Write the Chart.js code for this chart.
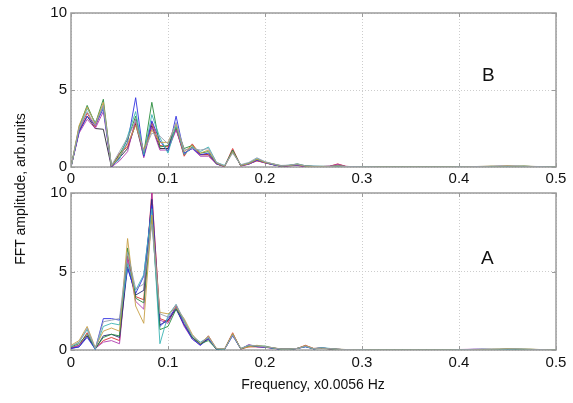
<!DOCTYPE html>
<html lang="en">
<head>
    <meta charset="UTF-8">
    <script src="https://cdn.jsdelivr.net/npm/chart.js"></script>
    <title>FFT amplitude</title>
    <style>
        body { margin: 0; background: #fff; }
        .figura { position: relative; width: 573px; height: 403px; font-family: "Liberation Sans", Arial, sans-serif; color: #111; }
        .figura canvas { position: absolute; left: 0; }
        #graficoB { top: 0; }
        #graficoA { top: 180px; }
        .letra { position: absolute; font-size: 19px; }
        .tituloX { position: absolute; left: 163px; width: 300px; top: 376px; text-align: center; font-size: 14px; }
        .tituloY { position: absolute; left: -80px; top: 181px; width: 200px; text-align: center; font-size: 14px; transform: rotate(-90deg); }
    </style>
</head>
<body>
    <div class="figura">
        <canvas id="graficoB" width="573" height="185"></canvas>
        <canvas id="graficoA" width="573" height="223"></canvas>
        <div class="letra" style="left:482px; top:64px;">B</div>
        <div class="letra" style="left:481px; top:247px;">A</div>
        <div class="tituloX">Frequency, x0.0056 Hz</div>
        <div class="tituloY">FFT amplitude, arb.units</div>
    </div>
<script>
    // frequencias dos bins da FFT (passo 1/120), de 0 a 0.5
    const freq = Array.from({ length: 61 }, (_, k) => k / 120);

    const xTicks = [0, 0.1, 0.2, 0.3, 0.4, 0.5];
    const yTicks = [0, 5, 10];

    // painel B (superior)
    const blueB = [0, 2.3, 3.3, 2.7, 3.8, 0.0, 0.6, 1.6, 4.5, 0.7,
        3.0, 1.7, 1.0, 3.3, 0.9, 1.2, 0.8, 0.9, 0.2, 0.05,
        1.0, 0.1, 0.2, 0.45, 0.3, 0.15, 0.05, 0.1, 0.12, 0.05,
        0.04, 0.03, 0.04, 0.05, 0.03, 0.02, 0.02, 0.01, 0.01, 0.01,
        0.01, 0.01, 0.01, 0.01, 0.01, 0.01, 0.01, 0.01, 0.01, 0.01,
        0.01, 0.02, 0.03, 0.05, 0.03, 0.04, 0.03, 0.02, 0.02, 0.01,
        0.01];
    const greenB = [0, 2.6, 4.0, 2.8, 4.4, 0.05, 0.8, 1.8, 3.3, 0.9,
        4.2, 1.3, 1.4, 2.6, 1.2, 1.4, 0.9, 1.0, 0.25, 0.05,
        1.1, 0.1, 0.25, 0.5, 0.3, 0.2, 0.08, 0.1, 0.2, 0.08,
        0.04, 0.04, 0.03, 0.06, 0.03, 0.02, 0.01, 0.01, 0.01, 0.01,
        0.01, 0.01, 0.01, 0.01, 0.01, 0.01, 0.01, 0.01, 0.01, 0.01,
        0.02, 0.02, 0.04, 0.03, 0.05, 0.03, 0.06, 0.03, 0.02, 0.01,
        0.01];
    const redB = [0, 2.4, 3.5, 2.6, 4.0, 0.0, 0.9, 1.3, 2.9, 1.0,
        2.9, 1.4, 1.3, 2.5, 0.7, 1.5, 0.8, 0.8, 0.2, 0.05,
        1.2, 0.08, 0.2, 0.4, 0.28, 0.15, 0.06, 0.1, 0.1, 0.05,
        0.03, 0.03, 0.05, 0.2, 0.04, 0.02, 0.01, 0.01, 0.01, 0.01,
        0.01, 0.01, 0.01, 0.01, 0.01, 0.01, 0.01, 0.01, 0.01, 0.01,
        0.01, 0.02, 0.03, 0.04, 0.06, 0.04, 0.03, 0.02, 0.01, 0.01,
        0.01];
    const cyanB = [0, 2.5, 3.8, 2.9, 3.9, 0.1, 0.5, 2.0, 3.6, 0.8,
        3.4, 1.9, 0.9, 2.7, 0.8, 1.3, 1.0, 1.3, 0.3, 0.1,
        1.0, 0.12, 0.25, 0.55, 0.32, 0.18, 0.07, 0.12, 0.18, 0.06,
        0.05, 0.04, 0.03, 0.05, 0.03, 0.02, 0.02, 0.01, 0.01, 0.01,
        0.01, 0.01, 0.01, 0.01, 0.01, 0.01, 0.01, 0.01, 0.01, 0.02,
        0.02, 0.03, 0.03, 0.04, 0.04, 0.05, 0.04, 0.03, 0.02, 0.01,
        0.01];
    const magentaB = [0, 2.2, 3.1, 2.5, 3.6, 0.0, 0.4, 1.0, 3.1, 0.6,
        2.6, 1.1, 1.1, 2.4, 0.9, 1.2, 0.7, 0.7, 0.2, 0.02,
        1.1, 0.06, 0.18, 0.42, 0.26, 0.16, 0.05, 0.08, 0.1, 0.04,
        0.03, 0.03, 0.04, 0.18, 0.04, 0.02, 0.01, 0.01, 0.01, 0.01,
        0.01, 0.01, 0.01, 0.01, 0.01, 0.01, 0.01, 0.01, 0.01, 0.01,
        0.01, 0.01, 0.02, 0.03, 0.03, 0.04, 0.03, 0.02, 0.01, 0.01,
        0.01];
    const oliveB = [0, 2.7, 3.9, 2.8, 4.2, 0.05, 0.7, 1.5, 2.7, 1.1,
        2.4, 1.6, 1.6, 2.8, 1.0, 1.4, 0.9, 1.1, 0.25, 0.04,
        1.0, 0.1, 0.22, 0.5, 0.3, 0.2, 0.06, 0.1, 0.15, 0.05,
        0.03, 0.03, 0.03, 0.08, 0.03, 0.02, 0.01, 0.01, 0.01, 0.01,
        0.01, 0.01, 0.01, 0.01, 0.01, 0.01, 0.01, 0.01, 0.01, 0.02,
        0.03, 0.04, 0.06, 0.05, 0.07, 0.05, 0.06, 0.04, 0.02, 0.01,
        0.01];
    const blackB = [0, 2.3, 3.3, 2.5, 2.45, 0.0, 0.6, 1.2, 2.8, 0.7,
        2.7, 1.2, 1.2, 2.5, 0.8, 1.3, 0.8, 0.8, 0.2, 0.03,
        1.1, 0.08, 0.2, 0.42, 0.28, 0.15, 0.05, 0.08, 0.12, 0.05,
        0.03, 0.03, 0.04, 0.12, 0.03, 0.02, 0.01, 0.01, 0.01, 0.01,
        0.01, 0.01, 0.01, 0.01, 0.01, 0.01, 0.01, 0.01, 0.01, 0.01,
        0.01, 0.01, 0.02, 0.02, 0.03, 0.03, 0.02, 0.02, 0.01, 0.01,
        0.01];
    const greyB = [0, 2.5, 3.6, 2.7, 4.0, 0.1, 1.0, 1.9, 3.0, 1.0,
        2.2, 2.0, 1.5, 2.9, 1.1, 1.2, 1.1, 1.2, 0.3, 0.08,
        0.9, 0.15, 0.3, 0.6, 0.35, 0.2, 0.1, 0.12, 0.2, 0.08,
        0.05, 0.05, 0.04, 0.06, 0.03, 0.03, 0.02, 0.02, 0.01, 0.01,
        0.01, 0.01, 0.01, 0.01, 0.01, 0.01, 0.01, 0.01, 0.02, 0.02,
        0.03, 0.04, 0.05, 0.06, 0.05, 0.06, 0.05, 0.04, 0.03, 0.02,
        0.01];

    // painel A (inferior)
    const blueA = [0.1, 0.2, 0.8, 0.05, 2.0, 2.0, 1.9, 5.2, 3.6, 4.7,
        9.2, 1.5, 2.0, 2.7, 1.6, 0.7, 0.3, 0.7, 0.05, 0.05,
        0.9, 0.08, 0.3, 0.22, 0.18, 0.12, 0.05, 0.05, 0.1, 0.2,
        0.08, 0.12, 0.08, 0.04, 0.02, 0.02, 0.01, 0.01, 0.01, 0.01,
        0.01, 0.01, 0.01, 0.01, 0.01, 0.01, 0.01, 0.01, 0.02, 0.03,
        0.04, 0.05, 0.04, 0.03, 0.03, 0.04, 0.03, 0.02, 0.01, 0.01,
        0.01];
    const greenA = [0.2, 0.4, 1.0, 0.1, 0.8, 1.0, 0.9, 6.5, 3.3, 3.0,
        8.5, 1.3, 1.5, 2.6, 1.9, 0.8, 0.4, 0.6, 0.05, 0.05,
        1.0, 0.07, 0.25, 0.25, 0.25, 0.13, 0.05, 0.05, 0.1, 0.25,
        0.08, 0.1, 0.08, 0.04, 0.02, 0.02, 0.01, 0.01, 0.01, 0.01,
        0.01, 0.01, 0.01, 0.01, 0.01, 0.01, 0.01, 0.01, 0.01, 0.02,
        0.02, 0.03, 0.04, 0.05, 0.07, 0.06, 0.05, 0.04, 0.02, 0.01,
        0.01];
    const redA = [0.15, 0.3, 1.1, 0.1, 0.6, 0.8, 0.6, 6.0, 3.4, 3.2,
        10, 2.0, 1.8, 2.8, 1.7, 0.8, 0.4, 0.7, 0.05, 0.05,
        1.1, 0.06, 0.2, 0.2, 0.2, 0.12, 0.05, 0.05, 0.1, 0.3,
        0.1, 0.12, 0.08, 0.04, 0.02, 0.02, 0.01, 0.01, 0.01, 0.01,
        0.01, 0.01, 0.01, 0.01, 0.01, 0.01, 0.01, 0.01, 0.01, 0.01,
        0.02, 0.02, 0.03, 0.03, 0.04, 0.03, 0.03, 0.02, 0.01, 0.01,
        0.01];
    const cyanA = [0.2, 0.5, 1.3, 0.05, 1.5, 1.7, 1.6, 5.5, 3.8, 4.8,
        9.0, 0.4, 2.2, 2.9, 1.8, 0.9, 0.5, 0.8, 0.08, 0.05,
        1.0, 0.1, 0.3, 0.28, 0.2, 0.12, 0.05, 0.05, 0.1, 0.22,
        0.08, 0.15, 0.1, 0.04, 0.02, 0.02, 0.01, 0.01, 0.01, 0.01,
        0.01, 0.01, 0.01, 0.01, 0.01, 0.01, 0.01, 0.01, 0.02, 0.02,
        0.03, 0.04, 0.03, 0.03, 0.04, 0.05, 0.04, 0.02, 0.01, 0.01,
        0.01];
    const magentaA = [0.1, 0.3, 0.9, 0.1, 0.5, 0.6, 0.4, 5.8, 3.1, 2.6,
        10, 1.9, 1.7, 2.7, 1.5, 0.7, 0.3, 0.9, 0.05, 0.03,
        1.0, 0.06, 0.35, 0.2, 0.17, 0.1, 0.05, 0.05, 0.1, 0.25,
        0.08, 0.13, 0.08, 0.04, 0.02, 0.02, 0.01, 0.01, 0.01, 0.01,
        0.01, 0.01, 0.01, 0.01, 0.01, 0.01, 0.01, 0.01, 0.03, 0.04,
        0.05, 0.04, 0.03, 0.02, 0.02, 0.03, 0.02, 0.02, 0.01, 0.01,
        0.01];
    const oliveA = [0.3, 0.6, 1.5, 0.15, 1.2, 1.4, 1.2, 7.1, 2.8, 1.7,
        8.6, 2.4, 2.3, 2.7, 2.0, 1.0, 0.4, 0.9, 0.1, 0.08,
        1.05, 0.1, 0.2, 0.3, 0.2, 0.15, 0.06, 0.06, 0.1, 0.28,
        0.1, 0.1, 0.08, 0.05, 0.03, 0.02, 0.01, 0.01, 0.01, 0.01,
        0.01, 0.01, 0.01, 0.01, 0.01, 0.01, 0.01, 0.01, 0.01, 0.02,
        0.03, 0.04, 0.05, 0.06, 0.08, 0.07, 0.06, 0.05, 0.03, 0.02,
        0.01];
    const navyA = [0.1, 0.2, 0.9, 0.05, 0.9, 1.0, 0.8, 5.3, 3.5, 3.8,
        9.6, 1.6, 1.9, 2.6, 1.6, 0.8, 0.35, 0.75, 0.05, 0.05,
        1.0, 0.07, 0.28, 0.22, 0.2, 0.12, 0.05, 0.05, 0.1, 0.22,
        0.08, 0.12, 0.08, 0.04, 0.02, 0.02, 0.01, 0.01, 0.01, 0.01,
        0.01, 0.01, 0.01, 0.01, 0.01, 0.01, 0.01, 0.01, 0.02, 0.03,
        0.03, 0.03, 0.03, 0.02, 0.02, 0.03, 0.02, 0.02, 0.01, 0.01,
        0.01];
    const greyA = [0.25, 0.5, 1.4, 0.1, 1.8, 1.9, 2.0, 6.2, 3.9, 4.2,
        8.0, 2.3, 2.1, 2.9, 1.9, 0.9, 0.45, 0.8, 0.08, 0.06,
        0.95, 0.1, 0.3, 0.25, 0.22, 0.14, 0.06, 0.06, 0.1, 0.24,
        0.09, 0.12, 0.09, 0.05, 0.03, 0.02, 0.02, 0.01, 0.01, 0.01,
        0.01, 0.01, 0.01, 0.01, 0.01, 0.01, 0.01, 0.01, 0.02, 0.03,
        0.04, 0.05, 0.05, 0.06, 0.06, 0.07, 0.06, 0.04, 0.03, 0.02,
        0.01];

    const cores = {
        grey: 'rgba(150,158,175,0.9)',
        olive: 'rgba(200,160,70,0.9)',
        cyan: 'rgba(60,180,180,0.9)',
        green: 'rgba(40,140,60,0.9)',
        blue: 'rgba(50,50,225,0.9)',
        magenta: 'rgba(175,60,175,0.9)',
        red: 'rgba(215,45,45,0.9)',
        black: 'rgba(50,50,60,0.95)'
    };

    // moldura cinza e tracinhos internos, estilo matlab
    const moldura = {
        id: 'moldura',
        beforeDatasetsDraw(chart) {
            const { ctx, chartArea: a, scales } = chart;
            ctx.save();
            ctx.strokeStyle = '#9c9c9c';
            ctx.lineWidth = 1;
            scales.x.ticks.forEach(t => {
                const px = Math.round(scales.x.getPixelForValue(t.value)) + 0.5;
                ctx.beginPath();
                ctx.moveTo(px, a.bottom); ctx.lineTo(px, a.bottom - 4);
                ctx.moveTo(px, a.top); ctx.lineTo(px, a.top + 4);
                ctx.stroke();
            });
            scales.y.ticks.forEach(t => {
                const py = Math.round(scales.y.getPixelForValue(t.value)) + 0.5;
                ctx.beginPath();
                ctx.moveTo(a.left, py); ctx.lineTo(a.left + 4, py);
                ctx.moveTo(a.right, py); ctx.lineTo(a.right - 4, py);
                ctx.stroke();
            });
            ctx.lineWidth = 1.5;
            ctx.strokeRect(a.left, a.top, a.right - a.left, a.bottom - a.top);
            ctx.restore();
        }
    };

    function montarDatasets(lista) {
        return lista.map(([valores, cor]) => ({
            data: valores,
            borderColor: cor,
            borderWidth: 1,
            pointRadius: 0,
            tension: 0,
            fill: false
        }));
    }

    function criarGrafico(id, lista, topo, alturaX, padX) {
        return new Chart(document.getElementById(id), {
            type: 'line',
            data: { labels: freq, datasets: montarDatasets(lista) },
            plugins: [moldura],
            options: {
                responsive: false,
                animation: false,
                layout: { padding: { top: topo, right: 17, left: 0, bottom: 0 } },
                plugins: { legend: { display: false }, tooltip: { enabled: false } },
                scales: {
                    x: {
                        type: 'linear', min: 0, max: 0.5,
                        afterBuildTicks: s => { s.ticks = xTicks.map(v => ({ value: v })); },
                        afterFit: s => { s.height = alturaX; },
                        grid: { color: '#cdcdcd', drawTicks: false, lineWidth: 1 },
                        border: { display: false, dash: [1, 2] },
                        ticks: { padding: padX, color: '#111', font: { family: 'Liberation Sans', size: 15 }, maxRotation: 0,
                            callback: v => String(v) }
                    },
                    y: {
                        min: 0, max: 10,
                        afterBuildTicks: s => { s.ticks = yTicks.map(v => ({ value: v })); },
                        afterFit: s => { s.width = 71; },
                        grid: { color: '#cdcdcd', drawTicks: false, lineWidth: 1 },
                        border: { display: false, dash: [1, 2] },
                        ticks: { padding: 4, color: '#111', font: { family: 'Liberation Sans', size: 15 } }
                    }
                }
            }
        });
    }

    criarGrafico('graficoB', [
        [greyB, cores.grey], [oliveB, cores.olive], [cyanB, cores.cyan], [greenB, cores.green],
        [blueB, cores.blue], [magentaB, cores.magenta], [redB, cores.red], [blackB, cores.black]
    ], 10, 18, 3);

    criarGrafico('graficoA', [
        [greyA, cores.grey], [oliveA, cores.olive], [cyanA, cores.cyan], [greenA, cores.green],
        [blueA, cores.blue], [navyA, 'rgba(40,40,120,0.9)'], [magentaA, cores.magenta], [redA, cores.red]
    ], 12, 53, 4);
</script>
</body>
</html>
